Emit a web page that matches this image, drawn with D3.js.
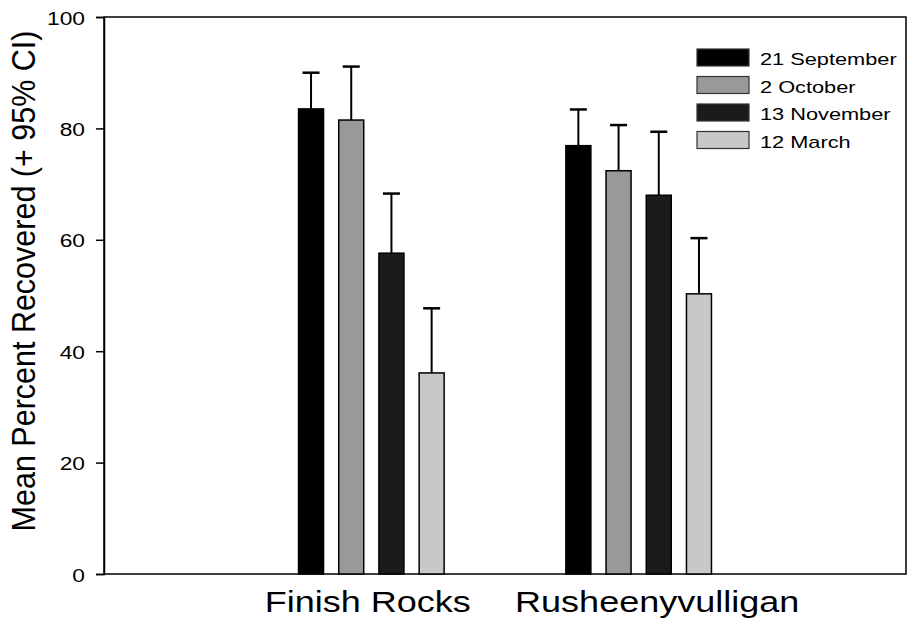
<!DOCTYPE html>
<html><head><meta charset="utf-8">
<script src="https://cdn.jsdelivr.net/npm/d3@7"></script>
<style>body{margin:0;background:#fff}svg{display:block}text{font-family:"Liberation Sans",Arial,sans-serif;fill:#000}</style>
</head><body>
<svg id="c" width="908" height="622"></svg>
<script>
const sites = ["Finish Rocks", "Rusheenyvulligan"];
const dates = ["21 September", "2 October", "13 November", "12 March"];
const colors = ["#000000", "#999999", "#1b1b1b", "#c8c8c8"];
const meanFinish = [83.5, 81.5, 57.6, 36.1];
const ciFinish = [90.0, 91.1, 68.3, 47.7];
const meanRush = [76.9, 72.4, 68.0, 50.3];
const ciRush = [83.4, 80.6, 79.4, 60.3];
const yTicks = [0, 20, 40, 60, 80, 100];

const means = [meanFinish, meanRush];
const upper = [ciFinish, ciRush];

const svg = d3.select("#c");
const L = 104, R = 906, T = 17, B = 574;
const SX = 1.2; // horizontal stretch of text in original
const x = d3.scaleLinear().domain([0, 3]).range([L, R]);
const y = d3.scaleLinear().domain([0, 100]).range([B, T]);
const step = 40.2, bw = 25;
const labelShift = [-3.5, 18.5];

// frame
svg.append("rect").attr("x", L).attr("y", T).attr("width", R - L).attr("height", B - T)
  .attr("fill", "none").attr("stroke", "#000").attr("stroke-width", 1.5);

// y axis
const ya = svg.append("g").attr("transform", `translate(${L},0)`)
  .call(d3.axisLeft(y).tickValues(yTicks).tickSize(8).tickFormat(""));
ya.select(".domain").attr("stroke-width", 1.5);
ya.selectAll(".tick line").attr("stroke-width", 1.5);
ya.selectAll(".tick text").remove();
ya.selectAll(".tick").append("text")
  .attr("transform", `translate(-19,7) scale(${SX},1)`)
  .attr("text-anchor", "end")
  .attr("fill", "#000")
  .style("font-size", "19px")
  .style("font-family", '"Liberation Sans",Arial,sans-serif')
  .text(d => d);

// bars
sites.forEach((s, gi) => {
  const cx = x(gi + 1);
  dates.forEach((d, i) => {
    const bx = cx + (i - 1.5) * step;
    const v = means[gi][i], u = upper[gi][i];
    svg.append("line").attr("x1", bx).attr("x2", bx).attr("y1", y(v)).attr("y2", y(u))
      .attr("stroke", "#000").attr("stroke-width", 2);
    svg.append("line").attr("x1", bx - 8.5).attr("x2", bx + 8.5).attr("y1", y(u)).attr("y2", y(u))
      .attr("stroke", "#000").attr("stroke-width", 2.5);
    svg.append("rect").attr("x", bx - bw / 2).attr("y", y(v)).attr("width", bw).attr("height", y(0) - y(v))
      .attr("fill", colors[i]).attr("stroke", "#000").attr("stroke-width", 1.5);
  });
  svg.append("text")
    .attr("transform", `translate(${cx + labelShift[gi]},612) scale(${SX},1)`)
    .attr("text-anchor", "middle")
    .style("font-size", "30px").text(s);
});

// y title
svg.append("text").attr("transform", `translate(35,281) scale(1.08,1) rotate(-90)`).attr("text-anchor", "middle")
  .style("font-size", "30.5px").text("Mean Percent Recovered (+ 95% CI)");

// legend
dates.forEach((d, i) => {
  const ly = 49 + i * 27.5;
  svg.append("rect").attr("x", 697).attr("y", ly).attr("width", 52).attr("height", 17)
    .attr("fill", colors[i]).attr("stroke", "#333").attr("stroke-width", 1.2);
  svg.append("text").attr("transform", `translate(760,${ly + 16}) scale(1.28,1)`)
    .style("font-size", "17px").text(d);
});
</script>
</body></html>
